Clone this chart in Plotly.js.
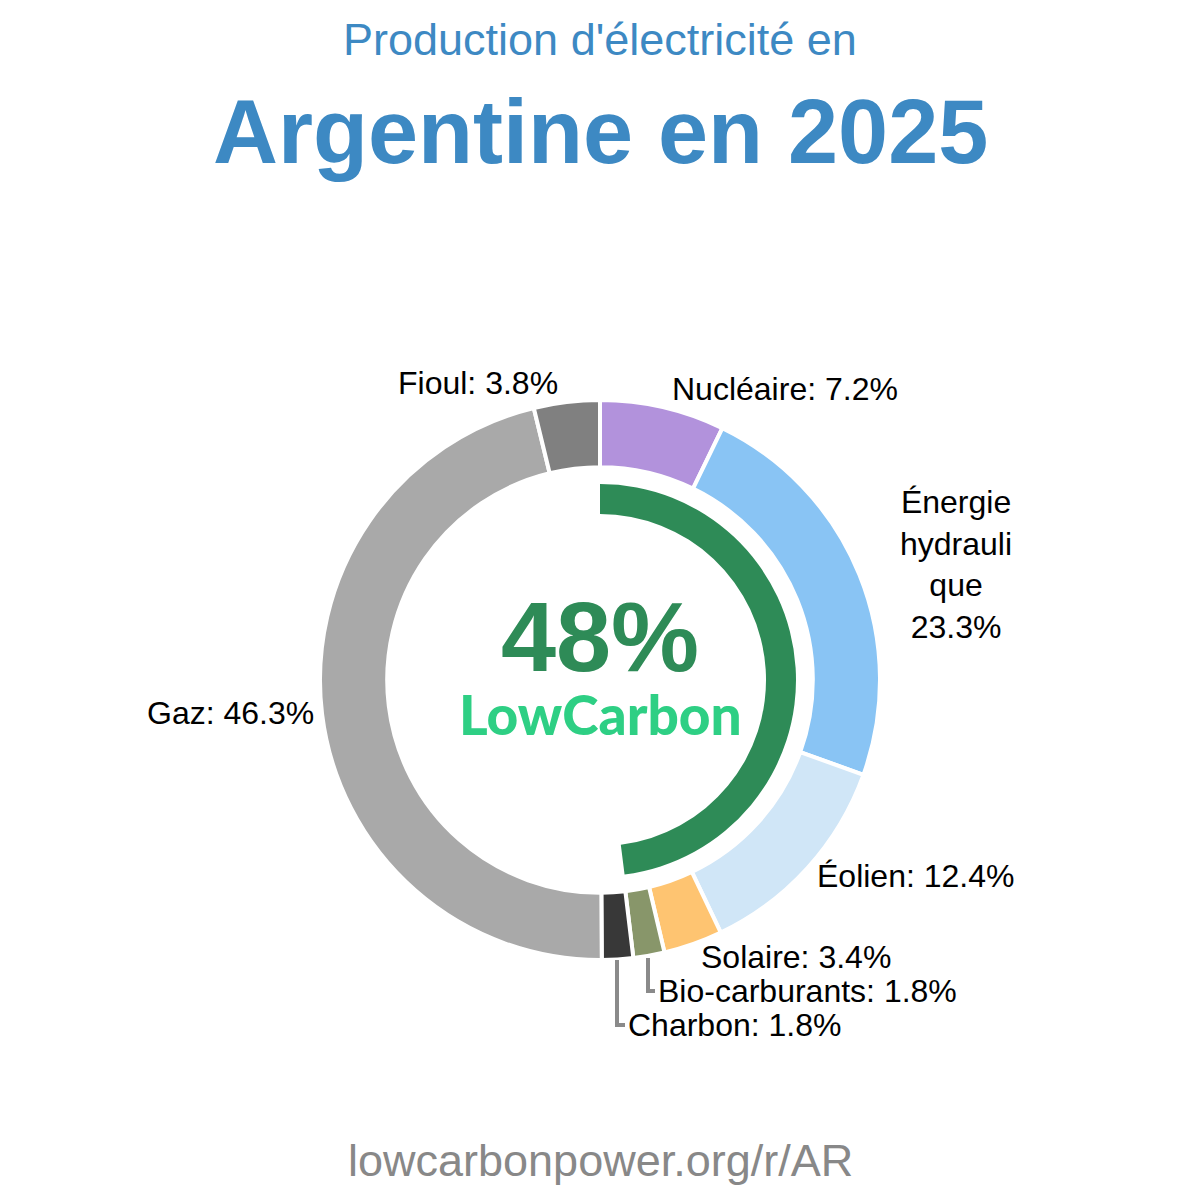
<!DOCTYPE html>
<html>
<head>
<meta charset="utf-8">
<script src="https://cdn.plot.ly/plotly-3.0.1.min.js"></script>
<style>html,body{margin:0;padding:0;background:#fff;}#chart{width:1200px;height:1200px;}</style>
</head>
<body>
<div id="chart"></div>
<script>
// Data
const sources = ["Nucléaire", "Énergie hydraulique", "Éolien", "Solaire", "Bio-carburants", "Charbon", "Gaz", "Fioul"];
const shares = [7.2, 23.3, 12.4, 3.4, 1.8, 1.8, 46.3, 3.8];
const sliceColors = ["#b292dc", "#89c4f4", "#d0e6f7", "#fec471", "#88966a", "#383838", "#a9a9a9", "#808080"];
const labelTexts = ["Nucléaire: 7.2%", "Énergie<br>hydrauli<br>que<br>23.3%", "Éolien: 12.4%", "Solaire: 3.4%", "Bio-carburants: 1.8%", "Charbon: 1.8%", "Gaz: 46.3%", "Fioul: 3.8%"];
const lowCarbonShare = [48, 52];
const subtitle = "Production d'électricité en";
const mainTitle = "Argentine en 2025";
const centerValue = "48%";
const centerLabel = "LowCarbon";
const footer = "lowcarbonpower.org/r/AR";

const W = 1200, H = 1200;
const px = x => x / W;
const py = y => 1 - y / H;

// label placements (pixel centers)
const labelPos = [
  {x: 785, y: 389, xa: "center"},
  {x: 956, y: 564, xa: "center"},
  {x: 915, y: 876, xa: "center"},
  {x: 796, y: 957, xa: "center"},
  {x: 656, y: 991, xa: "left"},
  {x: 626, y: 1025, xa: "left"},
  {x: 230, y: 713, xa: "center"},
  {x: 478, y: 383, xa: "center"}
];

const cx = 600, cy = 680, R = 280, Rg = 196;

const traces = [
  {
    type: "pie",
    values: shares,
    labels: sources,
    marker: {colors: sliceColors, line: {color: "#ffffff", width: 4}},
    hole: 0.76,
    sort: false,
    direction: "clockwise",
    rotation: 0,
    textinfo: "none",
    hoverinfo: "label+percent",
    showlegend: false,
    domain: {x: [px(cx - R), px(cx + R)], y: [py(cy + R), py(cy - R)]}
  },
  {
    type: "pie",
    values: lowCarbonShare,
    labels: ["Bas carbone", "Autre"],
    marker: {colors: ["#2e8b57", "rgba(0,0,0,0)"], line: {width: 0}},
    hole: 0.847,
    sort: false,
    direction: "clockwise",
    rotation: 0,
    textinfo: "none",
    hoverinfo: "skip",
    showlegend: false,
    domain: {x: [px(cx - Rg), px(cx + Rg)], y: [py(cy + Rg), py(cy - Rg)]}
  }
];

const labelFont = {family: "Liberation Sans, Arial, sans-serif", size: 32, color: "#000000"};
const annotations = labelTexts.map((t, i) => ({
  text: t, xref: "paper", yref: "paper",
  x: px(labelPos[i].x), y: py(labelPos[i].y),
  xanchor: labelPos[i].xa, yanchor: "middle",
  showarrow: false, font: labelFont, align: "center"
}));

annotations.push(
  {text: subtitle, xref: "paper", yref: "paper", x: 0.5, y: py(40), xanchor: "center", yanchor: "middle", showarrow: false,
   font: {family: "Liberation Sans, Arial, sans-serif", size: 45, color: "#3d89c3"}},
  {text: "<b>" + mainTitle + "</b>", xref: "paper", yref: "paper", x: 0.5, y: py(132), xanchor: "center", yanchor: "middle", showarrow: false,
   font: {family: "Liberation Sans, Arial, sans-serif", size: 90, color: "#3d89c3"}},
  {text: "<b>" + centerValue + "</b>", xref: "paper", yref: "paper", x: px(600), y: py(636), xanchor: "center", yanchor: "middle", showarrow: false,
   font: {family: "Liberation Sans, Arial, sans-serif", size: 99, color: "#2e8b57"}},
  {text: centerLabel, xref: "paper", yref: "paper", x: px(600), y: py(714), xanchor: "center", yanchor: "middle", showarrow: false,
   font: {family: "Lato, sans-serif", size: 55, color: "#2ecf84", weight: 900}},
  {text: footer, xref: "paper", yref: "paper", x: 0.5, y: py(1160), xanchor: "center", yanchor: "middle", showarrow: false,
   font: {family: "Liberation Sans, Arial, sans-serif", size: 45, color: "#888888"}}
);

const shapes = [
  {type: "path", xref: "paper", yref: "paper",
   path: `M ${px(648)},${py(958)} L ${px(648)},${py(991)} L ${px(655)},${py(991)}`,
   line: {color: "#8a8a8a", width: 4}},
  {type: "path", xref: "paper", yref: "paper",
   path: `M ${px(617)},${py(960)} L ${px(617)},${py(1025)} L ${px(625)},${py(1025)}`,
   line: {color: "#8a8a8a", width: 4}}
];

const layout = {
  width: W, height: H,
  margin: {l: 0, r: 0, t: 0, b: 0},
  paper_bgcolor: "#ffffff",
  plot_bgcolor: "#ffffff",
  showlegend: false,
  annotations: annotations,
  shapes: shapes
};

Plotly.newPlot("chart", traces, layout, {displayModeBar: false, staticPlot: true});
</script>
</body>
</html>
